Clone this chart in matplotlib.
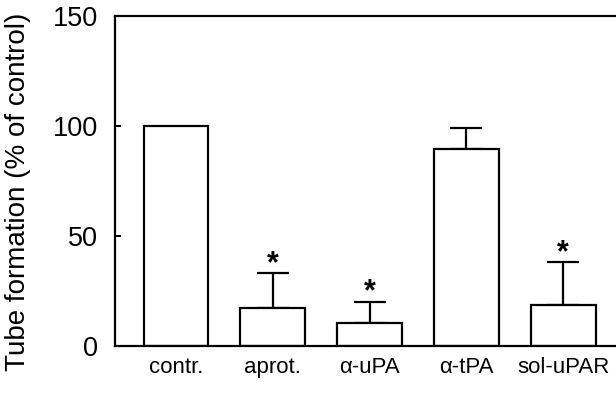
import matplotlib.pyplot as plt
import numpy as np

plt.rcParams['font.family'] = ['Liberation Sans', 'DejaVu Sans']

# Tube formation relative to control, mean and upper error
groups = ['contr.', 'aprot.', 'α-uPA', 'α-tPA', 'sol-uPAR']
means = [100, 17.4, 10.5, 89.4, 18.5]
errors = [0, 15.6, 9.7, 9.5, 19.5]
significant = [False, True, True, False, True]

x = np.arange(len(groups))

fig = plt.figure(figsize=(6.16, 3.94), dpi=100)
ax = fig.add_axes([0.1867, 0.1218, 1.01 - 0.1867, 0.8376])

ax.bar(x, means, width=0.67, color='white', edgecolor='black', linewidth=1.6, zorder=2)
err_mask = [e > 0 for e in errors]
ax.errorbar(x[err_mask], np.array(means)[err_mask],
            yerr=[np.zeros(sum(err_mask)), np.array(errors)[err_mask]],
            fmt='none', ecolor='black', elinewidth=1.6, capsize=11.5, capthick=1.6, zorder=1)

# significance stars above the error caps
for xi, m, e, s in zip(x, means, errors, significant):
    if s:
        ax.text(xi, m + e - 2.5, '*', ha='center', va='bottom',
                fontsize=22, fontweight='bold')

ax.set_xlim(-0.63, 4.61)
ax.set_ylim(0, 150)
ax.set_yticks([0, 50, 100, 150])
ax.set_xticks(x)
ax.set_xticklabels(groups, fontsize=16)
ax.tick_params(axis='y', direction='in', length=4.5, width=1.4, labelsize=19.5, pad=12)
ax.tick_params(axis='x', direction='in', length=1.5, width=0.5, pad=8, color='#999999')
ax.set_ylabel('Tube formation (% of control)', fontsize=20)
ax.yaxis.set_label_coords(-0.165, 0.467)

for sp in ax.spines.values():
    sp.set_linewidth(1.6)

fig.savefig('out.png', dpi=100)
